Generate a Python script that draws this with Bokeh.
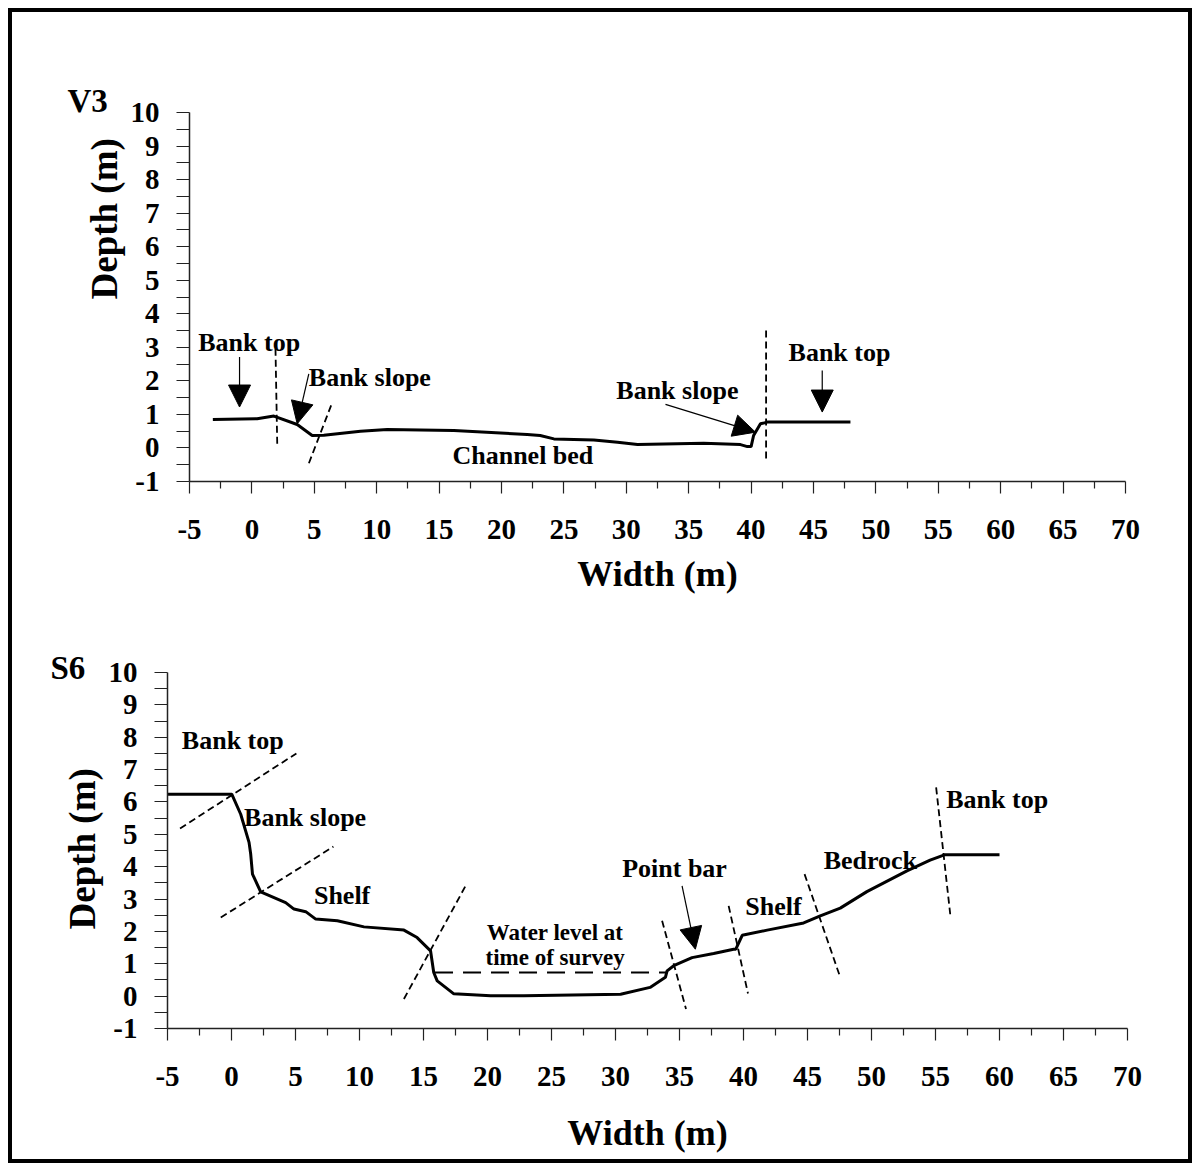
from bokeh.plotting import figure
from bokeh.layouts import column
from bokeh.models import Range1d, FixedTicker, Title, Arrow, NormalHead, Label
from bokeh.embed import file_html
from bokeh.resources import INLINE

FONT = "Liberation Serif"

# ---------------- data ----------------
x_ticks = list(range(-5, 71, 5))
x_minor = [t + 2.5 for t in range(-5, 70, 5)]
y_ticks = list(range(-1, 11))
y_minor = [t + 0.5 for t in range(-1, 10)]

# V3 cross-section
v3_width = [-3.13, 0.42, 1.76, 3.63, 4.83, 5.76, 8.7, 10.84, 16.18, 22.06, 23.1,
            24.2, 27.4, 29.3, 30.9, 36.2, 39.15, 39.7, 40.0, 40.2, 40.75, 41.3, 47.96]
v3_depth = [0.85, 0.87, 0.95, 0.70, 0.37, 0.38, 0.50, 0.55, 0.52, 0.40, 0.37,
            0.27, 0.24, 0.17, 0.10, 0.14, 0.10, 0.04, 0.04, 0.37, 0.72, 0.77, 0.77]

# S6 cross-section
s6_width = [-5.0, 0.02, 0.72, 1.37, 1.5, 1.64, 2.28, 4.23, 4.88, 5.8, 6.58, 8.27,
            10.35, 13.47, 14.5, 15.55, 15.8, 16.07, 17.37, 20.24, 22.84, 30.4, 32.7,
            33.9, 34.03, 34.55, 35.98, 37.67, 39.23, 39.4, 39.9, 41.85, 44.7, 46.0,
            47.56, 49.64, 52.77, 54.58, 55.75, 60.0]
s6_depth = [6.24, 6.24, 5.62, 4.75, 4.39, 3.77, 3.22, 2.89, 2.69, 2.61, 2.38, 2.33,
            2.14, 2.04, 1.81, 1.40, 0.73, 0.47, 0.07, 0.01, 0.01, 0.06, 0.27,
            0.58, 0.78, 0.94, 1.19, 1.32, 1.45, 1.45, 1.88, 2.04, 2.26, 2.48,
            2.72, 3.23, 3.87, 4.20, 4.37, 4.37]

# water level at time of survey (S6)
s6_water_x = [15.9, 34.03]
s6_water_y = [0.73, 0.73]

# zone boundaries (dashed)
v3_bx0 = [1.89, 6.35, 41.2]
v3_by0 = [2.96, 1.27, 3.5]
v3_bx1 = [2.03, 4.5, 41.2]
v3_by1 = [0.12, -0.52, -0.32]

s6_bx0 = [-4.02, -0.84, 13.47, 33.64, 38.84, 44.77, 55.05]
s6_by0 = [5.18, 2.43, -0.09, 2.33, 2.79, 3.77, 6.45]
s6_bx1 = [5.07, 7.96, 18.36, 35.51, 40.35, 47.56, 56.15]
s6_by1 = [7.5, 4.62, 3.46, -0.40, 0.08, 0.58, 2.53]

# annotation labels (text, x, y)
v3_labels = [("Bank top", -4.30, 3.15), ("Bank slope", 4.56, 2.11),
             ("Channel bed", 16.07, -0.22), ("Bank slope", 29.2, 1.71),
             ("Bank top", 43.0, 2.86)]
v3_arrows = [(-0.99, 2.71, -0.99, 1.22), (4.56, 2.21, 3.63, 0.72),
             (33.14, 1.30, 40.35, 0.47), (45.7, 2.31, 45.7, 1.07)]

s6_labels = [("Bank top", -3.88, 7.89), ("Bank slope", 0.98, 5.52),
             ("Shelf", 6.44, 3.10), ("Point bar", 30.52, 3.94),
             ("Shelf", 40.14, 2.76), ("Bedrock", 46.26, 4.18),
             ("Bank top", 55.84, 6.09)]
s6_center_labels = [("Water level at", 25.28, 1.97), ("time of survey", 25.28, 1.19)]
s6_arrows = [(35.2, 3.41, 36.24, 1.45)]


def make_fig(fw, fh, left, right, top, bottom, xlabel_standoff):
    p = figure(frame_width=fw, frame_height=fh,
               x_range=Range1d(-5, 70), y_range=Range1d(-1, 10),
               output_backend="svg", toolbar_location=None,
               min_border_left=left, min_border_right=right,
               min_border_top=top, min_border_bottom=bottom)
    try:
        p.frame_align = False
    except Exception:
        pass
    p.grid.visible = False
    p.outline_line_color = None
    p.background_fill_color = "white"
    p.border_fill_color = "white"
    for ax in (p.xaxis[0], p.yaxis[0]):
        ax.axis_line_color = "#222222"
        ax.axis_line_width = 1.5
        ax.major_tick_line_color = "#222222"
        ax.minor_tick_line_color = "#222222"
        ax.major_tick_line_width = 1.2
        ax.minor_tick_line_width = 1.2
        ax.major_tick_in = 0
        ax.minor_tick_in = 0
        ax.major_label_text_font = FONT
        ax.major_label_text_font_style = "bold"
        ax.major_label_text_font_size = "29px"
        ax.major_label_text_color = "black"
    p.xaxis[0].ticker = FixedTicker(ticks=x_ticks, minor_ticks=x_minor)
    p.yaxis[0].ticker = FixedTicker(ticks=y_ticks, minor_ticks=y_minor)
    p.xaxis[0].major_label_overrides = {-5: "-5"}
    p.yaxis[0].major_label_overrides = {-1: "-1"}
    p.xaxis[0].major_tick_out = 12
    p.xaxis[0].minor_tick_out = 7
    p.yaxis[0].major_tick_out = 13
    p.yaxis[0].minor_tick_out = 13
    p.xaxis[0].major_label_standoff = 26
    p.yaxis[0].major_label_standoff = 17
    xa = p.xaxis[0]
    xa.axis_label = "Width (m)"
    xa.axis_label_text_font = FONT
    xa.axis_label_text_font_style = "bold"
    xa.axis_label_text_font_size = "36px"
    xa.axis_label_text_color = "black"
    xa.axis_label_standoff = xlabel_standoff
    return p


def style_title(t, size):
    t.text_font = FONT
    t.text_font_style = "bold"
    t.text_font_size = size
    t.text_color = "black"


def add_text(p, txt, x, y, size="26px", align="left"):
    p.add_layout(Label(x=x, y=y, text=txt, text_font=FONT, text_font_style="bold",
                       text_font_size=size, text_align=align, text_baseline="middle",
                       text_color="black"))


def add_arrow(p, x0, y0, x1, y1):
    p.add_layout(Arrow(end=NormalHead(size=22, fill_color="black", line_color="black"),
                       x_start=x0, y_start=y0, x_end=x1, y_end=y1,
                       line_color="black", line_width=1.2))


def panel_titles(p, name, name_offset, name_standoff, depth_offset, depth_standoff):
    p.title.text = name
    p.title.align = "left"
    p.title.offset = name_offset
    p.title.standoff = name_standoff
    style_title(p.title, "33px")
    t = Title(text="Depth (m)", align="left", offset=depth_offset, standoff=depth_standoff)
    style_title(t, "37px")
    p.add_layout(t, "left")


# ---------------- top panel (V3) ----------------
p1 = make_fig(936, 369, 177, 63, 100, 119, 12)
p1.line(v3_width, v3_depth, line_color="black", line_width=3)
p1.segment(x0=v3_bx0, y0=v3_by0, x1=v3_bx1, y1=v3_by1, line_color="black",
           line_width=1.8, line_dash="7 4")
for t, x, y in v3_labels:
    add_text(p1, t, x, y)
for a in v3_arrows:
    add_arrow(p1, *a)
panel_titles(p1, "V3", -122, -13, 182, 5)

# ---------------- bottom panel (S6) ----------------
p2 = make_fig(960, 356, 155, 61, 72, 131, 24)
p2.line(s6_width, s6_depth, line_color="black", line_width=3)
p2.line(s6_water_x, s6_water_y, line_color="black", line_width=2, line_dash="18 10")
p2.segment(x0=s6_bx0, y0=s6_by0, x1=s6_bx1, y1=s6_by1, line_color="black",
           line_width=1.8, line_dash="7 4")
for t, x, y in s6_labels:
    add_text(p2, t, x, y)
for t, x, y in s6_center_labels:
    add_text(p2, t, x, y, size="23px", align="center")
for a in s6_arrows:
    add_arrow(p2, *a)
panel_titles(p2, "S6", -117, -27, 99, 6)

layout = column(p1, p2, margin=(8, 8, 8, 8), spacing=0,
                styles={"border": "4px solid black", "background-color": "white"})

open("out.html", "w").write(file_html(layout, INLINE))
